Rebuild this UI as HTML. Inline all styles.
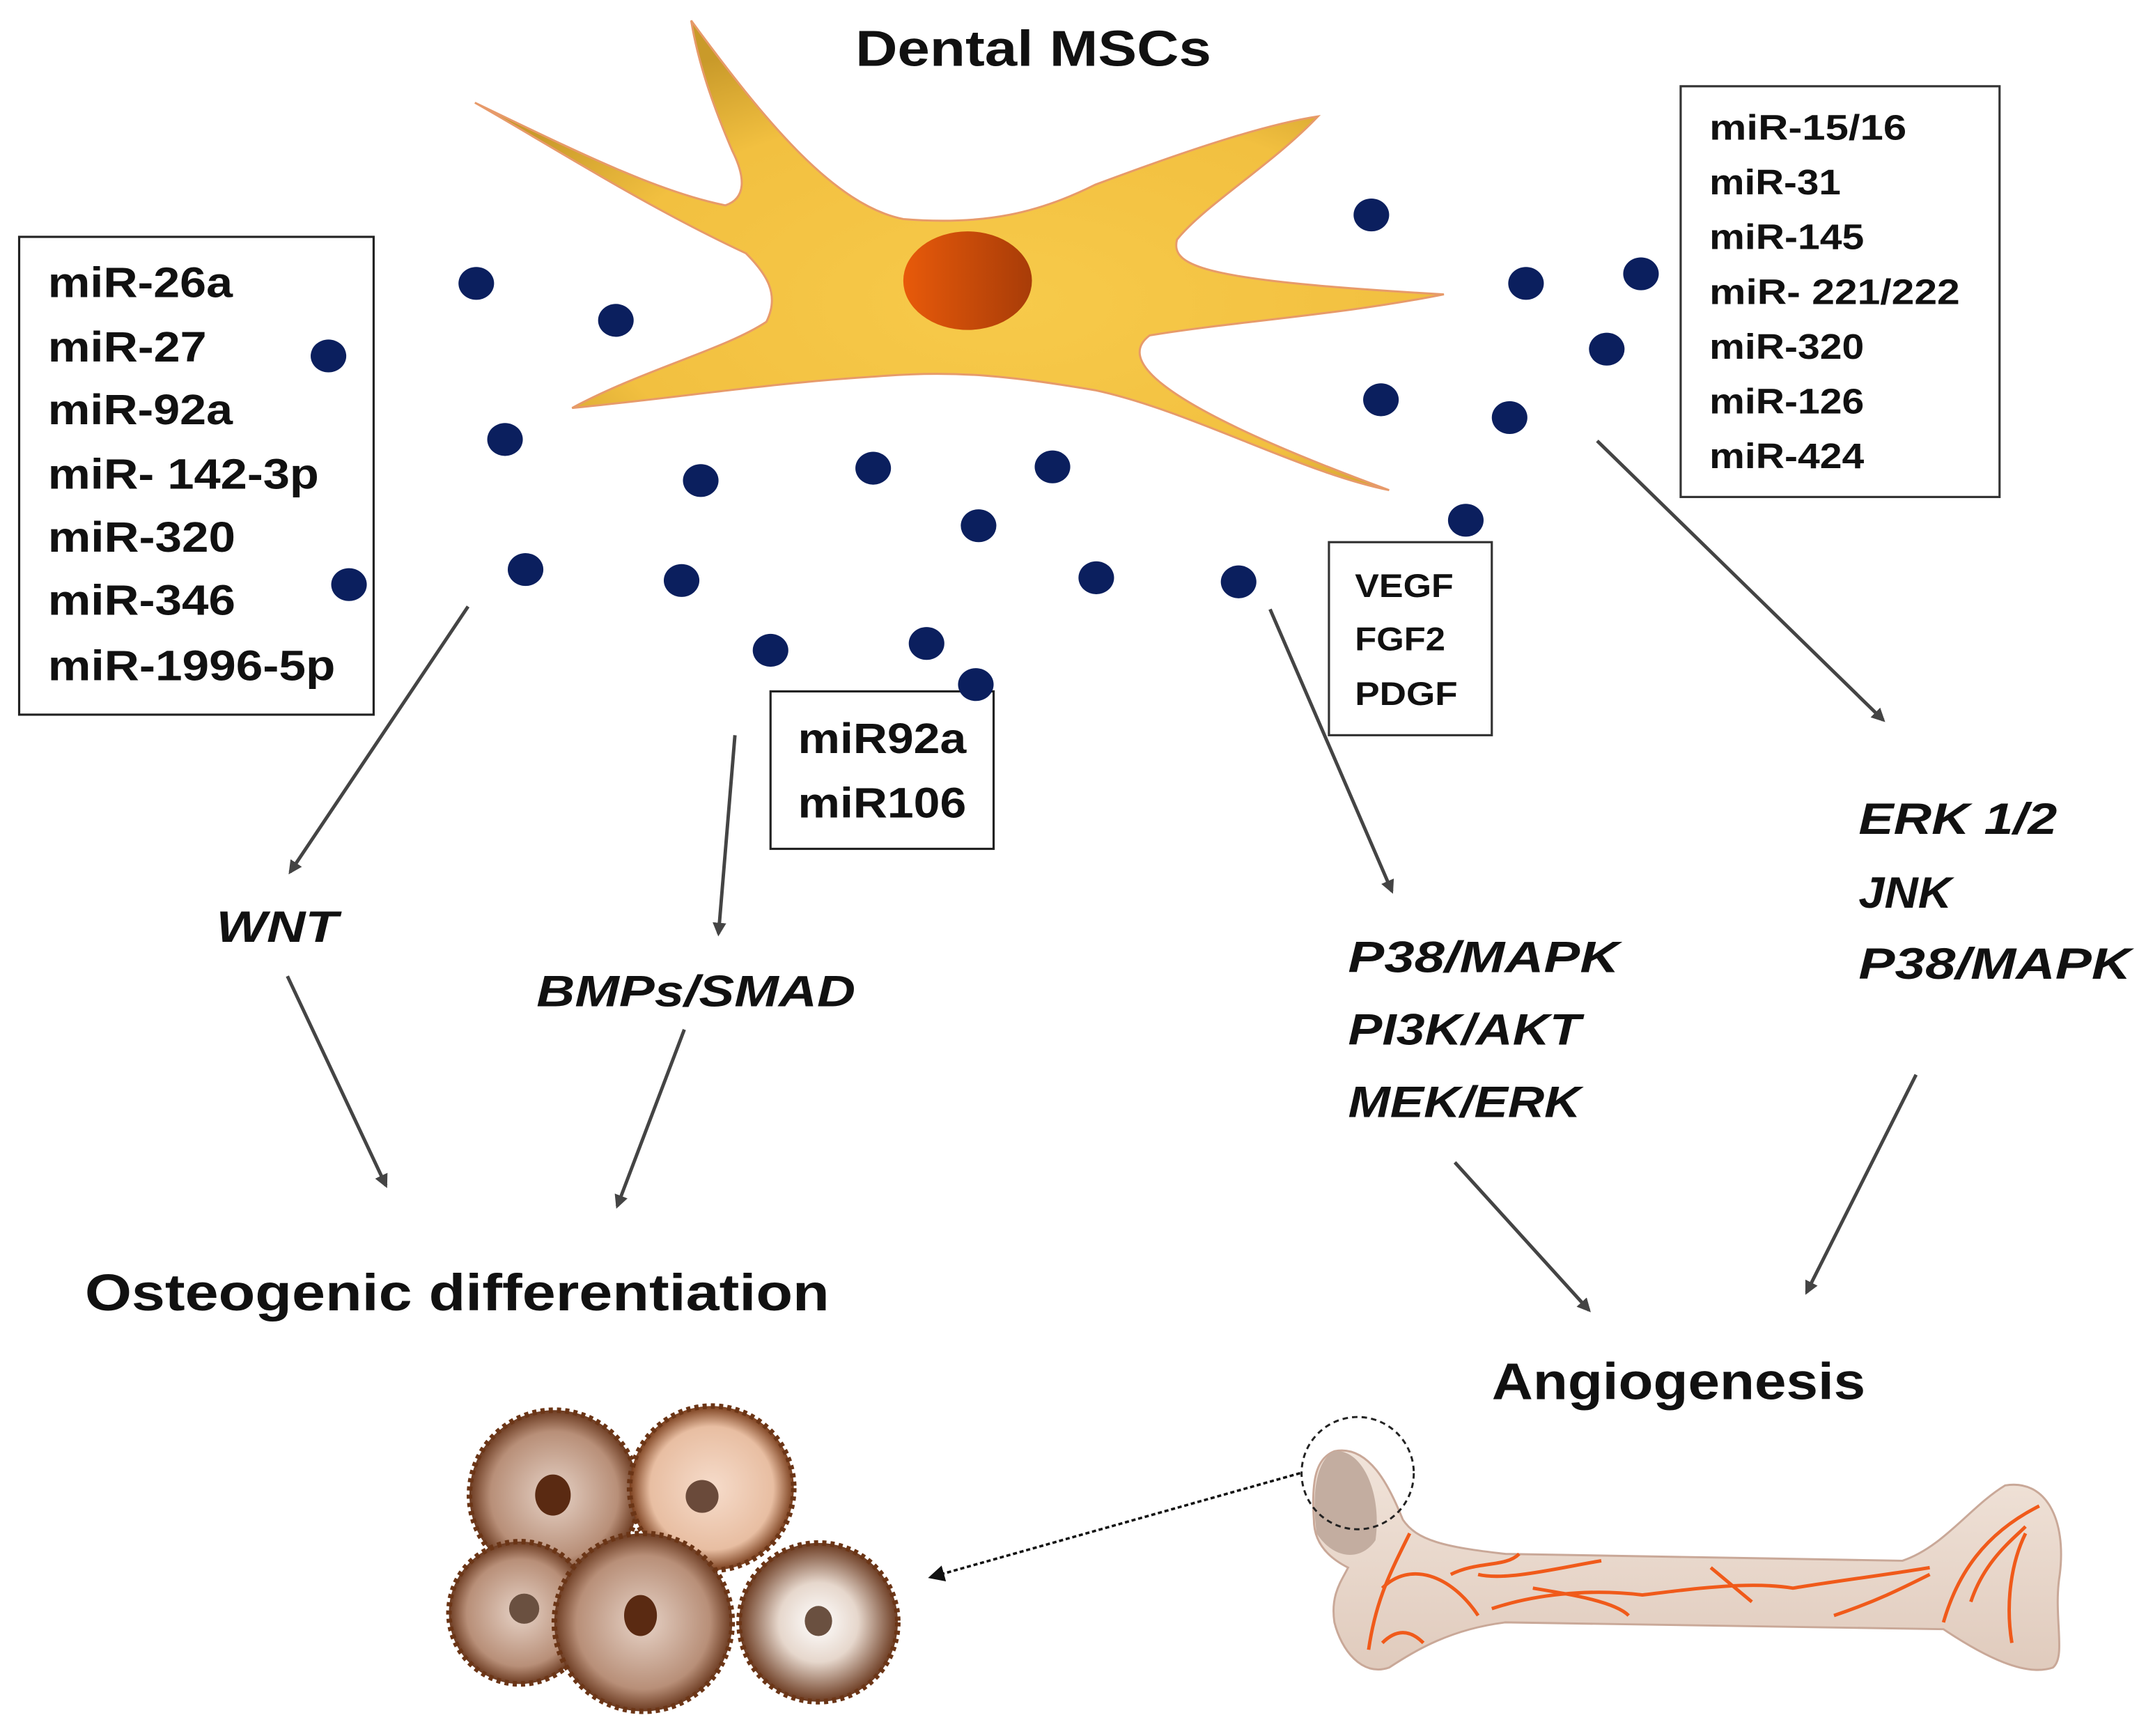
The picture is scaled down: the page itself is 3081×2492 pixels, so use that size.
<!DOCTYPE html>
<html><head><meta charset="utf-8"><style>
html,body{margin:0;padding:0;background:#fff;}
svg{display:block;}
text{font-family:"Liberation Sans",sans-serif;font-weight:bold;fill:#111;}
.it{font-style:italic;}
</style></head><body>
<svg width="3081" height="2492" viewBox="0 0 1568 1268" preserveAspectRatio="none" xmlns="http://www.w3.org/2000/svg">
<defs>
<radialGradient id="cell" cx="0.55" cy="0.6" r="0.6">
<stop offset="0" stop-color="#f7ca4a"/><stop offset="0.7" stop-color="#f2c040"/><stop offset="1" stop-color="#c99a2a"/>
</radialGradient>
<linearGradient id="nuc" x1="0" x2="1"><stop offset="0" stop-color="#e85a0a"/><stop offset="1" stop-color="#a83c08"/></linearGradient>
<marker id="ah" markerWidth="10" markerHeight="10" refX="8" refY="5" orient="auto" markerUnits="userSpaceOnUse"><path d="M0,0 L10,5 L0,10 z" fill="#444"/></marker>
<marker id="ah2" markerWidth="12" markerHeight="12" refX="10" refY="6" orient="auto" markerUnits="userSpaceOnUse"><path d="M0,0 L12,6 L0,12 z" fill="#111"/></marker>
<radialGradient id="o1"><stop offset="0" stop-color="#e6d2c6"/><stop offset="0.75" stop-color="#b88f78"/><stop offset="1" stop-color="#6b3a20"/></radialGradient>
<radialGradient id="o2"><stop offset="0" stop-color="#f6dccb"/><stop offset="0.75" stop-color="#e8bea2"/><stop offset="1" stop-color="#7a3e1c"/></radialGradient>
<radialGradient id="o3"><stop offset="0" stop-color="#fff"/><stop offset="0.5" stop-color="#e6d7cc"/><stop offset="1" stop-color="#6b3a20"/></radialGradient>
<linearGradient id="bone" x1="0" x2="0" y1="0" y2="1"><stop offset="0" stop-color="#f1e4da"/><stop offset="1" stop-color="#e0cbbd"/></linearGradient>
</defs>

<text x="625" y="48" font-size="37" textLength="260" lengthAdjust="spacingAndGlyphs">Dental MSCs</text>

<!-- cell -->
<path d="M505,15 C560,90 610,150 660,160 C720,165 760,155 800,135 C880,105 930,90 963,85 C930,120 880,150 860,175 C855,195 880,205 1055,215 C980,230 900,235 840,245 C820,260 830,290 1015,358 C950,345 870,300 800,285 C740,275 700,270 640,275 C560,280 500,290 418,298 C470,270 530,255 560,235 C570,215 560,200 545,185 C470,150 400,105 347,75 C420,110 480,140 530,150 C545,145 545,130 535,110 C520,75 510,45 505,15 Z" fill="url(#cell)" stroke="#e79a6a" stroke-width="1.5"/>
<ellipse cx="707" cy="205" rx="47" ry="36" fill="url(#nuc)"/>

<!-- boxes -->
<rect x="14" y="173" width="259" height="349" fill="#fff" stroke="#222" stroke-width="1.6"/>
<g font-size="31">
<text x="35" y="217" textLength="135" lengthAdjust="spacingAndGlyphs">miR-26a</text>
<text x="35" y="264" textLength="116" lengthAdjust="spacingAndGlyphs">miR-27</text>
<text x="35" y="310" textLength="135" lengthAdjust="spacingAndGlyphs">miR-92a</text>
<text x="35" y="357" textLength="198" lengthAdjust="spacingAndGlyphs">miR- 142-3p</text>
<text x="35" y="403" textLength="137" lengthAdjust="spacingAndGlyphs">miR-320</text>
<text x="35" y="449" textLength="137" lengthAdjust="spacingAndGlyphs">miR-346</text>
<text x="35" y="497" textLength="210" lengthAdjust="spacingAndGlyphs">miR-1996-5p</text>
</g>
<rect x="1228" y="63" width="233" height="300" fill="#fff" stroke="#333" stroke-width="1.6"/>
<g font-size="26">
<text x="1249" y="102" textLength="144" lengthAdjust="spacingAndGlyphs">miR-15/16</text>
<text x="1249" y="142" textLength="96" lengthAdjust="spacingAndGlyphs">miR-31</text>
<text x="1249" y="182" textLength="113" lengthAdjust="spacingAndGlyphs">miR-145</text>
<text x="1249" y="222" textLength="183" lengthAdjust="spacingAndGlyphs">miR- 221/222</text>
<text x="1249" y="262" textLength="113" lengthAdjust="spacingAndGlyphs">miR-320</text>
<text x="1249" y="302" textLength="113" lengthAdjust="spacingAndGlyphs">miR-126</text>
<text x="1249" y="342" textLength="113" lengthAdjust="spacingAndGlyphs">miR-424</text>
</g>
<rect x="971" y="396" width="119" height="141" fill="#fff" stroke="#333" stroke-width="1.6"/>
<g font-size="24"><text x="990" y="436" textLength="72" lengthAdjust="spacingAndGlyphs">VEGF</text><text x="990" y="475" textLength="66" lengthAdjust="spacingAndGlyphs">FGF2</text><text x="990" y="515" textLength="75" lengthAdjust="spacingAndGlyphs">PDGF</text></g>
<rect x="563" y="505" width="163" height="115" fill="#fff" stroke="#222" stroke-width="1.6"/>
<g font-size="31"><text x="583" y="550" textLength="123" lengthAdjust="spacingAndGlyphs">miR92a</text><text x="583" y="597" textLength="123" lengthAdjust="spacingAndGlyphs">miR106</text></g>

<!-- dots -->
<g fill="#0b1f5e">
<ellipse cx="348" cy="207" rx="13" ry="12"/><ellipse cx="450" cy="234" rx="13" ry="12"/><ellipse cx="240" cy="260" rx="13" ry="12"/>
<ellipse cx="369" cy="321" rx="13" ry="12"/><ellipse cx="512" cy="351" rx="13" ry="12"/><ellipse cx="638" cy="342" rx="13" ry="12"/>
<ellipse cx="769" cy="341" rx="13" ry="12"/><ellipse cx="715" cy="384" rx="13" ry="12"/><ellipse cx="384" cy="416" rx="13" ry="12"/>
<ellipse cx="498" cy="424" rx="13" ry="12"/><ellipse cx="255" cy="427" rx="13" ry="12"/><ellipse cx="801" cy="422" rx="13" ry="12"/>
<ellipse cx="905" cy="425" rx="13" ry="12"/><ellipse cx="563" cy="475" rx="13" ry="12"/><ellipse cx="677" cy="470" rx="13" ry="12"/>
<ellipse cx="713" cy="500" rx="13" ry="12"/><ellipse cx="1002" cy="157" rx="13" ry="12"/><ellipse cx="1115" cy="207" rx="13" ry="12"/>
<ellipse cx="1199" cy="200" rx="13" ry="12"/><ellipse cx="1174" cy="255" rx="13" ry="12"/><ellipse cx="1009" cy="292" rx="13" ry="12"/>
<ellipse cx="1103" cy="305" rx="13" ry="12"/><ellipse cx="1071" cy="380" rx="13" ry="12"/>
</g>

<!-- arrows -->
<g stroke="#444" stroke-width="2.5" fill="none" marker-end="url(#ah)">
<line x1="342" y1="443" x2="212" y2="637"/><line x1="537" y1="537" x2="525" y2="682"/>
<line x1="928" y1="445" x2="1017" y2="651"/><line x1="1167" y1="322" x2="1376" y2="526"/>
<line x1="210" y1="713" x2="282" y2="866"/><line x1="500" y1="752" x2="451" y2="881"/>
<line x1="1063" y1="849" x2="1161" y2="957"/><line x1="1400" y1="785" x2="1320" y2="944"/>
</g>

<g font-size="32">
<text class="it" x="158" y="688" textLength="89" lengthAdjust="spacingAndGlyphs">WNT</text>
<text class="it" x="392" y="735" textLength="233" lengthAdjust="spacingAndGlyphs">BMPs/SMAD</text>
<text class="it" x="985" y="710" textLength="198" lengthAdjust="spacingAndGlyphs">P38/MAPK</text>
<text class="it" x="985" y="763" textLength="170" lengthAdjust="spacingAndGlyphs">PI3K/AKT</text>
<text class="it" x="985" y="816" textLength="170" lengthAdjust="spacingAndGlyphs">MEK/ERK</text>
<text class="it" x="1358" y="609" textLength="145" lengthAdjust="spacingAndGlyphs">ERK 1/2</text>
<text class="it" x="1358" y="663" textLength="68" lengthAdjust="spacingAndGlyphs">JNK</text>
<text class="it" x="1358" y="715" textLength="199" lengthAdjust="spacingAndGlyphs">P38/MAPK</text>
</g>
<text x="62" y="957" font-size="38" textLength="544" lengthAdjust="spacingAndGlyphs">Osteogenic differentiation</text>
<text x="1090" y="1022" font-size="38" textLength="273" lengthAdjust="spacingAndGlyphs">Angiogenesis</text>

<!-- osteocytes -->
<g stroke="#6b3516" stroke-width="4" stroke-dasharray="3 3">
<circle cx="405" cy="1092" r="62" fill="url(#o1)"/>
<circle cx="520" cy="1087" r="60" fill="url(#o2)"/>
<circle cx="380" cy="1178" r="52" fill="url(#o1)"/>
<circle cx="598" cy="1185" r="58" fill="url(#o3)"/>
<circle cx="470" cy="1185" r="65" fill="url(#o1)"/>
</g>
<g fill="#5a2a12">
<ellipse cx="404" cy="1092" rx="13" ry="15"/><ellipse cx="513" cy="1093" rx="12" ry="12" fill="#6a4a3a"/>
<ellipse cx="383" cy="1175" rx="11" ry="11" fill="#6a5040"/><ellipse cx="468" cy="1180" rx="12" ry="15"/>
<ellipse cx="598" cy="1184" rx="10" ry="11" fill="#6a5040"/>
</g>

<!-- bone -->
<path d="M975,1060 C1000,1055 1015,1085 1025,1110 C1035,1125 1055,1130 1100,1135 L1390,1140 C1420,1130 1440,1100 1465,1085 C1495,1080 1510,1110 1505,1150 C1500,1180 1510,1210 1500,1218 C1480,1225 1450,1210 1420,1190 L1100,1185 C1060,1190 1035,1205 1015,1218 C995,1225 980,1205 975,1185 C972,1165 980,1155 985,1145 C975,1140 960,1130 960,1110 C958,1080 962,1065 975,1060 Z" fill="url(#bone)" stroke="#c9a898" stroke-width="1.5"/>
<path d="M975,1060 C995,1058 1010,1090 1005,1125 C995,1140 975,1140 962,1120 C958,1090 962,1066 975,1060 Z" fill="#c3ada0"/>
<g stroke="#f05a1a" stroke-width="2.5" fill="none">
<path d="M1000,1205 C1005,1170 1015,1150 1030,1120"/>
<path d="M1010,1160 C1030,1140 1060,1150 1080,1180"/>
<path d="M1060,1150 C1080,1140 1100,1145 1110,1135"/>
<path d="M1080,1150 C1100,1155 1140,1145 1170,1140"/>
<path d="M1090,1175 C1120,1165 1160,1160 1200,1165 C1240,1160 1280,1155 1310,1160 C1340,1155 1380,1150 1410,1145"/>
<path d="M1120,1160 C1150,1165 1180,1170 1190,1180"/>
<path d="M1250,1145 L1280,1170"/><path d="M1340,1180 C1370,1170 1390,1160 1410,1150"/>
<path d="M1420,1185 C1430,1150 1450,1120 1490,1100"/>
<path d="M1440,1170 C1450,1140 1470,1125 1480,1115"/>
<path d="M1470,1200 C1465,1170 1470,1140 1480,1120"/>
<path d="M1010,1200 C1020,1190 1030,1190 1040,1200"/>
</g>
<circle cx="992" cy="1076" r="41" fill="none" stroke="#222" stroke-width="1.5" stroke-dasharray="4 3"/>
<line x1="950" y1="1076" x2="680" y2="1152" stroke="#111" stroke-width="1.8" stroke-dasharray="3 2" marker-end="url(#ah2)"/>
</svg>
</body></html>
